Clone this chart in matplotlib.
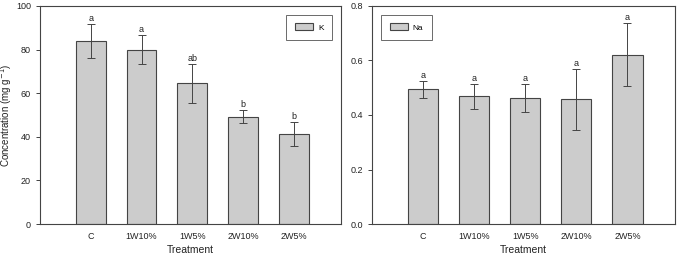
import matplotlib
matplotlib.use("Agg")
import matplotlib.pyplot as plt
import numpy as np

plt.rcParams["font.family"] = ["Liberation Sans", "DejaVu Sans"]

treatments = ["C", "1W10%", "1W5%", "2W10%", "2W5%"]

k_mean = [84.0, 80.0, 64.5, 49.2, 41.3]
k_err = [7.8, 6.7, 8.8, 3.0, 5.6]
k_letters = ["a", "a", "ab", "b", "b"]

na_mean = [0.494, 0.468, 0.462, 0.458, 0.622]
na_err = [0.032, 0.046, 0.051, 0.112, 0.116]
na_letters = ["a", "a", "a", "a", "a"]

fig = plt.figure(figsize=(6.81, 2.60), dpi=100)
ax1 = fig.add_axes([40 / 681, 36 / 260, 301 / 681, 218 / 260])
ax2 = fig.add_axes([372 / 681, 36 / 260, 303 / 681, 218 / 260])

x = np.arange(len(treatments))


def draw(ax, mean, err, letters, label, ymax, yticks, off, loc):
    ax.bar(x, mean, width=0.59, color="#cccccc", edgecolor="#444444",
           linewidth=0.8, label=label, zorder=2)
    ax.errorbar(x, mean, yerr=err, fmt="none", ecolor="#444444",
                elinewidth=0.7, capsize=3, capthick=0.7, zorder=3)
    for xi, m, e, t in zip(x, mean, err, letters):
        ax.text(xi, m + e + off, t, ha="center", va="bottom", fontsize=6.5,
                color="#222222")
    ax.set_xlim(-1.0, 4.93)
    ax.set_ylim(0, ymax)
    ax.set_yticks(yticks)
    ax.set_xticks(x)
    ax.set_xticklabels(treatments)
    ax.tick_params(axis="x", length=0, pad=5.5, labelsize=6.5, colors="#222222")
    ax.tick_params(axis="y", direction="out", length=3, width=0.6,
                   labelsize=6.5, colors="#222222")
    for s in ax.spines.values():
        s.set_linewidth(0.8)
        s.set_color("#444444")
    ax.set_xlabel("Treatment", fontsize=7.5, labelpad=3, color="#222222")
    leg = ax.legend(loc=loc, fontsize=6, frameon=True, fancybox=False,
                    handlelength=2.2, handleheight=0.9, borderpad=1.0,
                    handletextpad=0.6, borderaxespad=1.1)
    leg.get_frame().set_edgecolor("#444444")
    leg.get_frame().set_linewidth(0.7)


draw(ax1, k_mean, k_err, k_letters, "K", 100, [0, 20, 40, 60, 80, 100], 0.5,
     "upper right")
ax1.set_yticklabels(["0", "20", "40", "60", "80", "100"])
ax1.set_ylabel("Concentration (mg g$^{-1}$)", fontsize=7, color="#222222")
ax1.yaxis.set_label_coords(-0.085, 0.5)

draw(ax2, na_mean, na_err, na_letters, "Na", 0.8, [0.0, 0.2, 0.4, 0.6, 0.8],
     0.004, "upper left")
ax2.set_yticklabels(["0.0", "0.2", "0.4", "0.6", "0.8"])

fig.savefig("out.png", dpi=100)
